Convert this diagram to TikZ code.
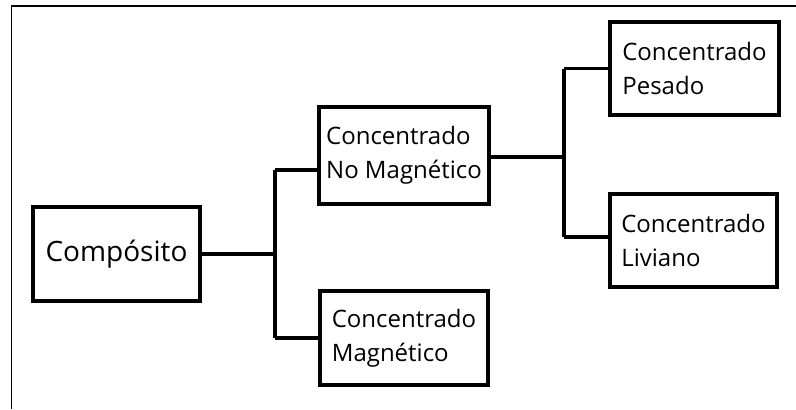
\documentclass[tikz,border=0pt]{standalone}
\usepackage{fontspec}
\setmainfont{Open Sans}
\begin{document}
\begin{tikzpicture}[x=1bp,y=-1bp,
  box/.style={draw,line width=4bp,minimum width=#1,inner sep=0pt,align=left,
    font=\fontsize{24bp}{34bp}\selectfont},
  link/.style={line width=3.5bp},
  frame/.style={line width=1.5bp}]
\useasboundingbox (0,0) rectangle (796,409);
\draw[frame] (796,6) -- (11.5,6) -- (11.5,409);
\node[box=167bp,minimum height=94bp,font=\fontsize{28bp}{34bp}\selectfont] (comp) at (116.5,254) {Compósito};
\node[box=170bp,minimum height=97bp] (nomag) at (404,155.5) {Concentrado\\No Magnético};
\node[box=168bp,minimum height=94bp] (mag) at (404,338) {Concentrado\\Magnético};
\node[box=169bp,minimum height=93bp] (pes) at (694.5,68.5) {Concentrado\\Pesado};
\node[box=167bp,minimum height=93bp] (liv) at (693.5,240.5) {Concentrado\\Liviano};
\coordinate (j1) at (275,254);
\coordinate (j1t) at (275,170);
\coordinate (j1b) at (275,338);
\coordinate (j2) at (564,157);
\coordinate (j2t) at (564,68.5);
\coordinate (j2b) at (564,237);
\draw[link] (comp.east) -- (j1);
\draw[link] (j1t) -- (j1b);
\draw[link] (j1t) -- (j1t -| nomag.west);
\draw[link] (j1b) -- (mag.west);
\draw[link] (nomag.east |- j2) -- (j2);
\draw[link] (j2t) -- (j2b);
\draw[link] (j2t) -- (pes.west);
\draw[link] (j2b) -- (j2b -| liv.west);
\end{tikzpicture}
\end{document}
